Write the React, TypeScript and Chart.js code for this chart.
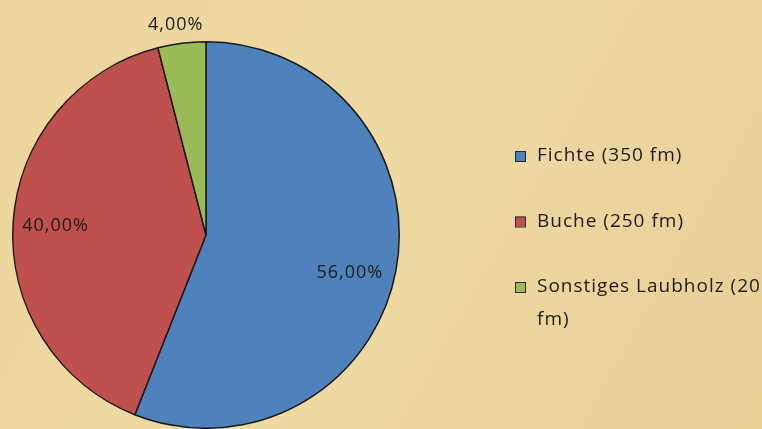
import React, { useEffect, useRef } from "react";
import { Chart, registerables } from "chart.js";

Chart.register(...registerables);

const categories = ["Fichte", "Buche", "Sonstiges Laubholz"];
const shares = [56, 40, 4]; // percent
const percentLabels = ["56,00%", "40,00%", "4,00%"];
const legendLabels = ["Fichte (350 fm)", "Buche (250 fm)", "Sonstiges Laubholz (20 fm)"];
const colors = ["#4F81BD", "#C0504D", "#9BBB59"];

const W = 762;
const H = 429;

const backgroundPlugin = {
  id: "parchment",
  beforeDraw(chart: any) {
    const { ctx } = chart;
    ctx.save();
    const g = ctx.createLinearGradient(0, 0, W, H);
    g.addColorStop(0, "#EDD59C");
    g.addColorStop(0.5, "#EFD9A3");
    g.addColorStop(1, "#E8CE95");
    ctx.fillStyle = g;
    ctx.fillRect(0, 0, W, H);
    ctx.restore();
  },
};

const labelRadius = [0.77, 0.78, 1.1];
const labelAngleOffsetDeg = [4, 0, -1];

const dataLabelPlugin = {
  id: "pctLabels",
  afterDatasetsDraw(chart: any) {
    const { ctx } = chart;
    const meta = chart.getDatasetMeta(0);
    ctx.save();
    ctx.font = "18px 'Open Sans'";
    (ctx as any).letterSpacing = "1px";
    ctx.fillStyle = "#1c1c1c";
    ctx.textAlign = "center";
    ctx.textBaseline = "middle";
    meta.data.forEach((arc: any, i: number) => {
      const { x, y, startAngle, endAngle, outerRadius } = arc.getProps(
        ["x", "y", "startAngle", "endAngle", "outerRadius"],
        true
      );
      const mid = (startAngle + endAngle) / 2 + (labelAngleOffsetDeg[i] * Math.PI) / 180;
      const r = outerRadius * labelRadius[i];
      ctx.fillText(percentLabels[i], x + Math.cos(mid) * r, y + Math.sin(mid) * r);
    });
    ctx.restore();
  },
};

const legendPlugin = {
  id: "customLegend",
  afterDraw(chart: any) {
    const { ctx } = chart;
    const boxX = 515;
    const textX = 537;
    const firstY = 156;
    const rowGap = 65.5;
    const lineH = 33;
    const maxW = W - textX;
    ctx.save();
    ctx.font = "19px 'Open Sans'";
    (ctx as any).letterSpacing = "1px";
    ctx.textBaseline = "middle";
    ctx.textAlign = "left";
    legendLabels.forEach((label, i) => {
      const cy = firstY + i * rowGap;
      ctx.fillStyle = colors[i];
      ctx.fillRect(boxX, cy - 5, 10, 10);
      ctx.strokeStyle = "#2a2a2a";
      ctx.lineWidth = 1;
      ctx.strokeRect(boxX + 0.5, cy - 4.5, 10, 10);
      const words = label.split(" ");
      const lines: string[] = [];
      let cur = "";
      words.forEach((w) => {
        const test = cur ? cur + " " + w : w;
        if (ctx.measureText(test).width > maxW && cur) {
          lines.push(cur);
          cur = w;
        } else cur = test;
      });
      if (cur) lines.push(cur);
      ctx.fillStyle = "#1c1c1c";
      lines.forEach((ln, j) => ctx.fillText(ln, textX, cy + j * lineH));
    });
    ctx.restore();
  },
};

export default function App() {
  const ref = useRef<HTMLCanvasElement>(null);
  useEffect(() => {
    document.body.style.margin = "0";
    const chart = new Chart(ref.current!, {
      type: "pie",
      data: {
        labels: categories,
        datasets: [
          {
            data: shares,
            backgroundColor: colors,
            borderColor: "#1a1a1a",
            borderWidth: 1.5,
          },
        ],
      },
      options: {
        animation: false,
        responsive: false,
        layout: { padding: { left: 12, top: 41, right: 362, bottom: 0 } },
        plugins: { legend: { display: false }, tooltip: { enabled: false } },
      },
      plugins: [backgroundPlugin, dataLabelPlugin, legendPlugin],
    });
    return () => chart.destroy();
  }, []);
  return (
    <div style={{ width: W, height: H }}>
      <canvas ref={ref} width={W} height={H} style={{ display: "block" }} />
    </div>
  );
}
